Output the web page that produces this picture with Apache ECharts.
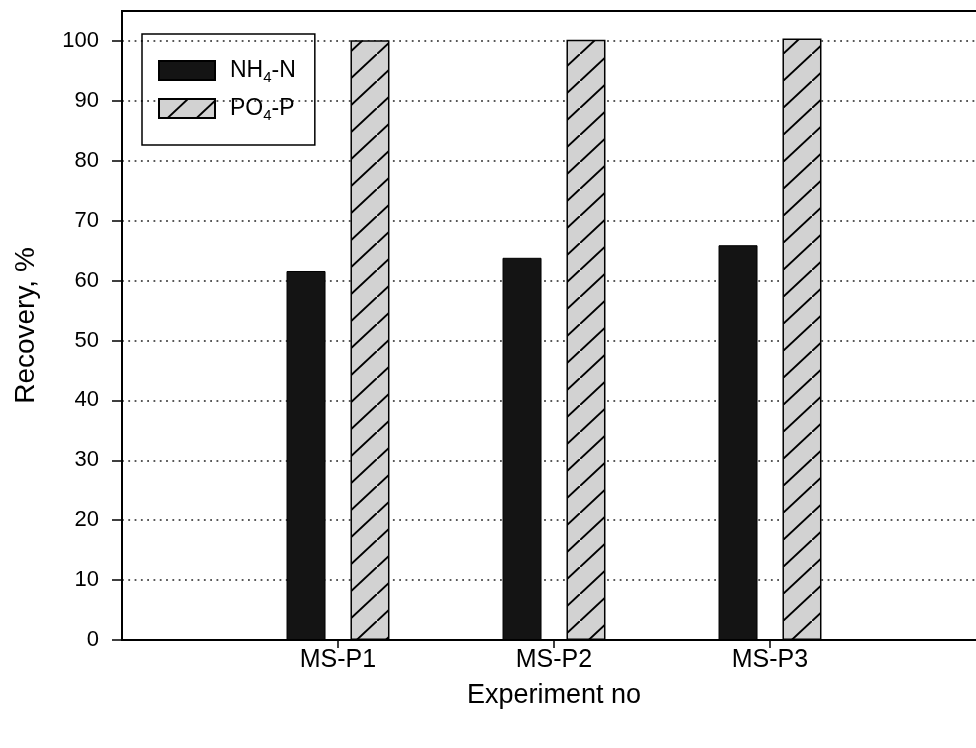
<!DOCTYPE html>
<html><head><meta charset="utf-8">
<script src="https://cdn.jsdelivr.net/npm/echarts@6/dist/echarts.min.js"></script>
<style>html,body{margin:0;padding:0;background:#fff}#c{width:976px;height:748px}</style>
</head><body><div id="c"></div>
<script>
const categories = ['MS-P1', 'MS-P2', 'MS-P3'];
const nh4Values = [61.6, 63.8, 65.9];
const po4Values = [100.1, 100.2, 100.4];
const yTickValues = [0, 10, 20, 30, 40, 50, 60, 70, 80, 90, 100];
const seriesNames = ['NH4-N', 'PO4-P'];
const legendRich = {
  'NH4-N': '{a|NH}{s|4}{a|-N}',
  'PO4-P': '{a|PO}{s|4}{a|-P}'
};

function hatchCanvas() {
  const c = document.createElement('canvas');
  const w = 29, h = 27;
  c.width = w; c.height = h;
  const g = c.getContext('2d');
  g.fillStyle = '#d2d2d2';
  g.fillRect(0, 0, w, h);
  g.strokeStyle = '#000';
  g.lineWidth = 2;
  g.beginPath();
  g.moveTo(-w, 2 * h);
  g.lineTo(2 * w, -h);
  g.stroke();
  return c;
}

const axisCats = [''].concat(categories, [' ']);
const pad = arr => [null].concat(arr, [null]);
const font = 'Liberation Sans, Arial, sans-serif';

const chart = echarts.init(document.getElementById('c'), null, {renderer: 'canvas'});
chart.setOption({
  animation: false,
  backgroundColor: '#fff',
  textStyle: {fontFamily: font, color: '#000'},
  grid: {left: 122, top: 11, width: 864, bottom: 108, outerBoundsMode: 'none', containLabel: false,
    show: true, borderColor: '#000', borderWidth: 2, backgroundColor: 'transparent'},
  legend: {
    orient: 'vertical', left: 142, top: 34,
    itemWidth: 56, itemHeight: 19, itemGap: 9,
    padding: [22, 19, 22, 16],
    borderColor: '#000', borderWidth: 1.5,
    icon: 'rect',
    data: seriesNames,
    formatter: n => legendRich[n],
    textStyle: {
      padding: [0, 0, 0, 10],
      rich: {
        a: {fontSize: 23, lineHeight: 22, fontFamily: font, color: '#000'},
        s: {fontSize: 15, lineHeight: 15, padding: [14, 0, 0, 0], fontFamily: font, color: '#000'}
      }
    }
  },
  xAxis: {
    type: 'category', data: axisCats, boundaryGap: false,
    name: 'Experiment no', nameLocation: 'middle', nameGap: 42,
    nameTextStyle: {fontSize: 27, fontFamily: font, color: '#000'},
    axisLine: {lineStyle: {color: '#000', width: 2}},
    axisTick: {inside: false, length: 8, lineStyle: {color: '#000', width: 1.5},
      interval: (i) => i >= 1 && i <= categories.length},
    axisLabel: {fontSize: 25, margin: 8, color: '#000', fontFamily: font, interval: 0},
    splitLine: {show: false}
  },
  yAxis: {
    type: 'value', min: 0, max: 105,
    name: 'Recovery, %', nameLocation: 'middle', nameGap: 82,
    nameTextStyle: {fontSize: 28, fontFamily: font, color: '#000'},
    axisLine: {show: true, lineStyle: {color: '#000', width: 2}},
    axisTick: {show: true, inside: false, length: 10, lineStyle: {color: '#000', width: 1.5}, customValues: yTickValues},
    axisLabel: {fontSize: 22, margin: 23, color: '#000', fontFamily: font, customValues: yTickValues},
    splitLine: {show: true, lineStyle: {color: '#222', width: 1.5, type: [1.8, 4.5]}}
  },
  series: [
    {
      name: seriesNames[0], type: 'bar', data: pad(nh4Values),
      barWidth: 39, barGap: '64%',
      itemStyle: {color: '#141414', borderColor: '#000', borderWidth: 1}
    },
    {
      name: seriesNames[1], type: 'bar', data: pad(po4Values),
      barWidth: 39, barGap: '64%',
      itemStyle: {color: {image: hatchCanvas(), repeat: 'repeat'}, borderColor: '#000', borderWidth: 1.5}
    }
  ]
});
</script></body></html>
